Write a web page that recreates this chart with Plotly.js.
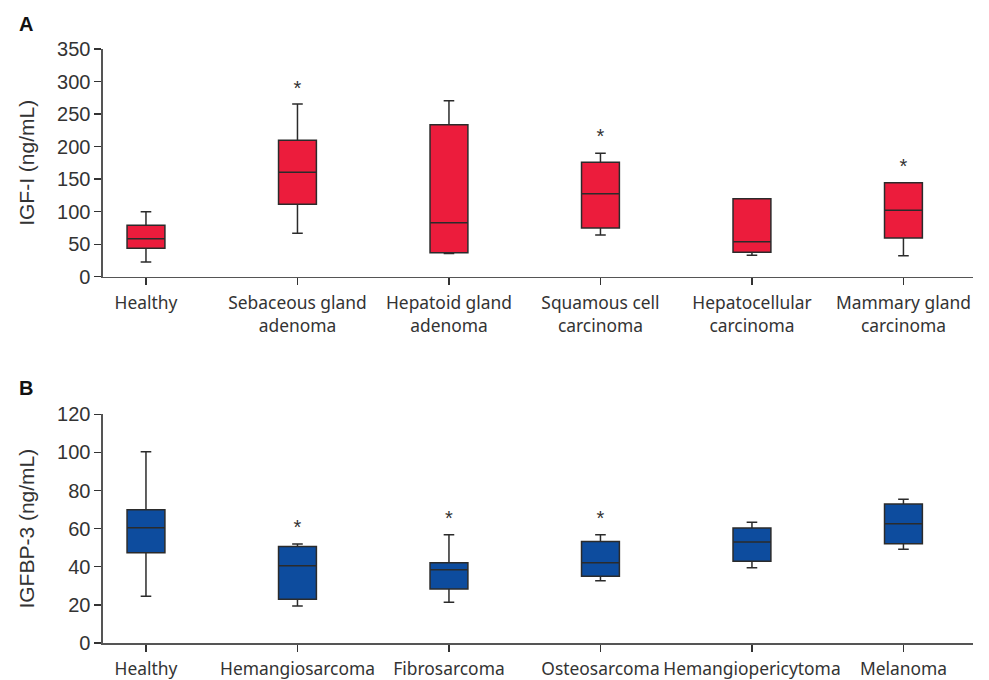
<!DOCTYPE html>
<html>
<head>
<meta charset="utf-8">
<script src="https://cdn.plot.ly/plotly-3.0.1.min.js"></script>
<style>html,body{margin:0;padding:0;background:#fff;}#chart{width:989px;height:680px;}</style>
</head>
<body>
<div id="chart"></div>
<script>
// Panel A: IGF-I (ng/mL)
const catsA = ["Healthy", "Sebaceous gland<br>adenoma", "Hepatoid gland<br>adenoma", "Squamous cell<br>carcinoma", "Hepatocellular<br>carcinoma", "Mammary gland<br>carcinoma"];
const lowA = [22.6, 66.7, 35.5, 64.1, 32.9, 32.3];
const q1A = [43.6, 111.3, 36.9, 74.9, 37.5, 59.5];
const medA = [58.4, 160.4, 83.0, 127.6, 53.8, 102.0];
const q3A = [79.0, 209.6, 233.6, 175.8, 119.9, 144.5];
const highA = [100.0, 265.4, 270.5, 189.7, 119.9, 144.5];
const starCatsA = ["Sebaceous gland<br>adenoma", "Squamous cell<br>carcinoma", "Mammary gland<br>carcinoma"];
const starYA = [287, 213, 167];
const yTicksA = [0, 50, 100, 150, 200, 250, 300, 350];

// Panel B: IGFBP-3 (ng/mL)
const catsB = ["Healthy", "Hemangiosarcoma", "Fibrosarcoma", "Osteosarcoma", "Hemangiopericytoma", "Melanoma"];
const lowB = [24.5, 19.4, 21.4, 32.7, 39.5, 49.2];
const q1B = [47.4, 22.9, 28.3, 35.0, 42.9, 52.1];
const medB = [60.5, 40.6, 38.5, 42.1, 53.0, 62.6];
const q3B = [69.9, 50.7, 42.1, 53.2, 60.3, 72.9];
const highB = [100.4, 51.9, 56.8, 56.8, 63.3, 75.4];
const starCatsB = ["Hemangiosarcoma", "Fibrosarcoma", "Osteosarcoma"];
const starYB = [59.9, 64.6, 64.6];
const yTicksB = [0, 20, 40, 60, 80, 100, 120];

const redFill = "#EC1C3C";
const blueFill = "#0D4C9E";
const edge = "#2b2b2b";
const axisCol = "#555555";
const textCol = "#333333";

const traces = [
  {type: "box", x: catsA, q1: q1A, median: medA, q3: q3A, lowerfence: lowA, upperfence: highA,
   xaxis: "x", yaxis: "y", fillcolor: redFill, line: {color: edge, width: 1.5},
   width: 0.25, whiskerwidth: 0.28, boxpoints: false, hoverinfo: "skip", showlegend: false},
  {type: "scatter", mode: "text", x: starCatsA, y: starYA, text: starCatsA.map(() => "*"),
   textfont: {family: "Liberation Sans, Arial, sans-serif", size: 20, color: textCol},
   xaxis: "x", yaxis: "y", hoverinfo: "skip", showlegend: false},
  {type: "box", x: catsB, q1: q1B, median: medB, q3: q3B, lowerfence: lowB, upperfence: highB,
   xaxis: "x2", yaxis: "y2", fillcolor: blueFill, line: {color: edge, width: 1.5},
   width: 0.25, whiskerwidth: 0.28, boxpoints: false, hoverinfo: "skip", showlegend: false},
  {type: "scatter", mode: "text", x: starCatsB, y: starYB, text: starCatsB.map(() => "*"),
   textfont: {family: "Liberation Sans, Arial, sans-serif", size: 20, color: textCol},
   xaxis: "x2", yaxis: "y2", hoverinfo: "skip", showlegend: false}
];

const xCommon = {
  type: "category", range: [-0.284, 5.457], showgrid: false, zeroline: false,
  showline: true, linecolor: axisCol, linewidth: 1.5,
  ticks: "outside", ticklen: 7, tickwidth: 1.3, tickcolor: textCol, tickangle: 0,
  ticklabelstandoff: 3,
  tickfont: {family: "Noto Sans, Open Sans, sans-serif", size: 17.4, color: textCol},
  fixedrange: true
};
const yCommon = {
  showgrid: false, zeroline: false, showline: true, linecolor: axisCol, linewidth: 1.5,
  ticks: "outside", ticklen: 7, tickwidth: 1.3, tickcolor: textCol,
  tickfont: {family: "Liberation Sans, Arial, sans-serif", size: 20, color: textCol},
  fixedrange: true
};

const layout = {
  width: 989, height: 680,
  margin: {l: 0, r: 0, t: 0, b: 0},
  paper_bgcolor: "#ffffff", plot_bgcolor: "#ffffff",
  showlegend: false,
  xaxis: Object.assign({}, xCommon, {domain: [0.1041, 0.9835], anchor: "y", categoryarray: catsA, categoryorder: "array"}),
  yaxis: Object.assign({}, yCommon, {domain: [0.5931, 0.9279], anchor: "x", range: [0, 350], tickvals: yTicksA,
    title: {text: "IGF-I (ng/mL)", font: {family: "Liberation Sans, Arial, sans-serif", size: 21, color: textCol}, standoff: 16}}),
  xaxis2: Object.assign({}, xCommon, {domain: [0.1041, 0.9835], anchor: "y2", categoryarray: catsB, categoryorder: "array"}),
  yaxis2: Object.assign({}, yCommon, {domain: [0.0544, 0.3907], anchor: "x2", range: [0, 120], tickvals: yTicksB,
    title: {text: "IGFBP-3 (ng/mL)", font: {family: "Liberation Sans, Arial, sans-serif", size: 21, color: textCol}, standoff: 16}}),
  annotations: [
    {text: "<b>A</b>", x: 0.017, y: 1 - 11/680, xref: "paper", yref: "paper", xanchor: "left", yanchor: "top",
     showarrow: false, font: {family: "Liberation Sans, Arial, sans-serif", size: 20, color: "#111"}},
    {text: "<b>B</b>", x: 0.017, y: 1 - 375/680, xref: "paper", yref: "paper", xanchor: "left", yanchor: "top",
     showarrow: false, font: {family: "Liberation Sans, Arial, sans-serif", size: 20, color: "#111"}}
  ]
};

Plotly.newPlot("chart", traces, layout, {displayModeBar: false, staticPlot: true});
</script>
</body>
</html>
